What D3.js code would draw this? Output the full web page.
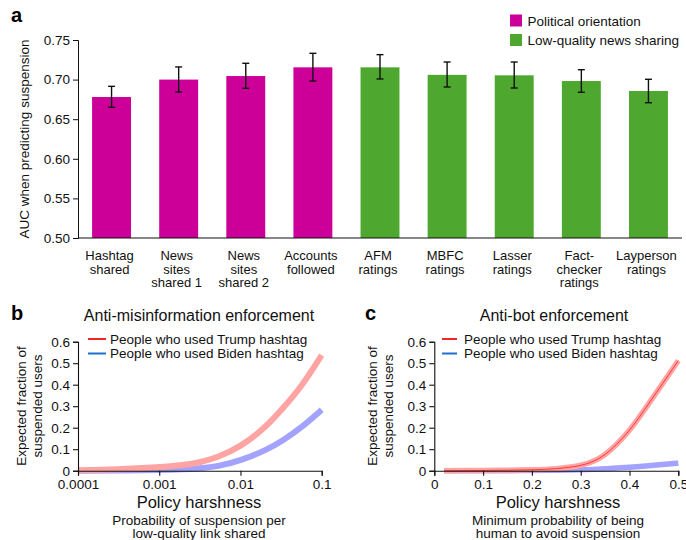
<!DOCTYPE html>
<html>
<head>
<meta charset="utf-8">
<script src="https://cdn.jsdelivr.net/npm/d3@7"></script>
<style>
  html, body { margin: 0; padding: 0; background: #fff; }
  svg { display: block; font-family: "Liberation Sans", Arial, Helvetica, sans-serif; }
</style>
</head>
<body>
<svg id="fig" width="686" height="540"></svg>
<script>
// ---- Panel a: AUC of suspension prediction per predictor ----
const categories = [
  ["Hashtag", "shared"], ["News", "sites", "shared 1"], ["News", "sites", "shared 2"],
  ["Accounts", "followed"], ["AFM", "ratings"], ["MBFC", "ratings"], ["Lasser", "ratings"],
  ["Fact-", "checker", "ratings"], ["Layperson", "ratings"]
];
const groups = ["pol", "pol", "pol", "pol", "lq", "lq", "lq", "lq", "lq"];
const auc   = [0.678, 0.700, 0.7045, 0.7155, 0.7155, 0.706, 0.7054, 0.6982, 0.6856];
const aucLo = [0.665, 0.6843, 0.689, 0.6982, 0.7008, 0.6907, 0.6894, 0.684, 0.6708];
const aucHi = [0.6915, 0.716, 0.7206, 0.7332, 0.7315, 0.7222, 0.7222, 0.7125, 0.7004];
const aucTicks = [0.50, 0.55, 0.60, 0.65, 0.70, 0.75];
const groupNames = { pol: "Political orientation", lq: "Low-quality news sharing" };

// ---- Panel b: anti-misinformation enforcement ----
const harshB = [0.0001, 0.0003, 0.001, 0.002, 0.0032, 0.0052, 0.01, 0.021, 0.034, 0.055, 0.1];
const trumpB = [0.002, 0.006, 0.016, 0.026, 0.039, 0.062, 0.11, 0.205, 0.295, 0.385, 0.538];
const bidenB = [0.0, 0.001, 0.003, 0.006, 0.011, 0.019, 0.047, 0.096, 0.143, 0.197, 0.283];
const ticksB = [0.0001, 0.001, 0.01, 0.1];

// ---- Panel c: anti-bot enforcement ----
const harshC = [0.02, 0.05, 0.1, 0.15, 0.2, 0.25, 0.3, 0.326, 0.35, 0.373, 0.4, 0.428, 0.456, 0.48, 0.5];
const trumpC = [0, 0.0005, 0.001, 0.002, 0.004, 0.008, 0.022, 0.042, 0.073, 0.12, 0.185, 0.274, 0.367, 0.445, 0.512];
const bidenC = [0, 0, 0, 0, 0.001, 0.002, 0.004, 0.006, 0.009, 0.012, 0.016, 0.021, 0.026, 0.031, 0.035];
const ticksC = [0, 0.1, 0.2, 0.3, 0.4, 0.5];
const fracTicks = [0, 0.1, 0.2, 0.3, 0.4, 0.5, 0.6];

const colors = { pol: "#cc0099", lq: "#4ea72e" };
const trumpBand = "#ffa3a3", trumpLine = "#ff1a1a", trumpKey = "#f0282a";
const bidenBand = "#a3a3ff", bidenKey = "#1f6fcf";

const svg = d3.select("#fig");
const FONT = 13.5;

function panelLetter(x, y, t) {
  svg.append("text").attr("x", x).attr("y", y).attr("font-size", 20).attr("font-weight", "bold").text(t);
}

// ================= Panel a =================
panelLetter(11, 22, "a");

const xa = d3.scaleBand().domain(d3.range(categories.length)).range([78, 682])
  .paddingInner(0.42).paddingOuter(0.21);
const ya = d3.scaleLinear().domain([0.5, 0.75]).range([238, 40]);

const ga = svg.append("g");
ga.selectAll("rect.bar").data(auc).join("rect")
  .attr("class", "bar")
  .attr("x", (d, i) => xa(i))
  .attr("width", xa.bandwidth())
  .attr("y", d => ya(d))
  .attr("height", d => ya(0.5) - ya(d))
  .attr("fill", (d, i) => colors[groups[i]]);

// error bars
const eb = ga.selectAll("g.err").data(auc).join("g").attr("class", "err")
  .attr("stroke", "#111").attr("stroke-width", 1.4);
eb.append("line")
  .attr("x1", (d, i) => xa(i) + xa.bandwidth() / 2).attr("x2", (d, i) => xa(i) + xa.bandwidth() / 2)
  .attr("y1", (d, i) => ya(aucLo[i])).attr("y2", (d, i) => ya(aucHi[i]));
eb.append("line")
  .attr("x1", (d, i) => xa(i) + xa.bandwidth() / 2 - 3.5).attr("x2", (d, i) => xa(i) + xa.bandwidth() / 2 + 3.5)
  .attr("y1", (d, i) => ya(aucLo[i])).attr("y2", (d, i) => ya(aucLo[i]));
eb.append("line")
  .attr("x1", (d, i) => xa(i) + xa.bandwidth() / 2 - 3.5).attr("x2", (d, i) => xa(i) + xa.bandwidth() / 2 + 3.5)
  .attr("y1", (d, i) => ya(aucHi[i])).attr("y2", (d, i) => ya(aucHi[i]));

// y axis
const yAxisA = ga.append("g").attr("transform", "translate(78,0)")
  .call(d3.axisLeft(ya).tickValues(aucTicks).tickFormat(d3.format(".2f")).tickSize(5).tickPadding(3));
yAxisA.selectAll("text").attr("font-size", FONT).attr("fill", "#111").attr("font-family", null);
yAxisA.selectAll("line,path").attr("stroke", "#111");

// baseline
ga.append("line").attr("x1", 78).attr("x2", 682).attr("y1", ya(0.5)).attr("y2", ya(0.5))
  .attr("stroke", "#111").attr("stroke-width", 1.2);

// category labels
const catLab = ga.selectAll("text.cat").data(categories).join("text")
  .attr("class", "cat")
  .attr("text-anchor", "middle")
  .attr("font-size", 13)
  .attr("fill", "#111")
  .attr("x", (d, i) => xa(i) + xa.bandwidth() / 2 - 2)
  .attr("y", 260);
catLab.selectAll("tspan").data(d => d).join("tspan")
  .attr("x", function () { return d3.select(this.parentNode).attr("x"); })
  .attr("dy", (d, j) => j === 0 ? 0 : 13.5)
  .text(d => d);

// y title
svg.append("text")
  .attr("transform", `translate(29,${(40 + 238) / 2}) rotate(-90)`)
  .attr("text-anchor", "middle").attr("font-size", FONT).attr("fill", "#111")
  .text("AUC when predicting suspension");

// legend
const legA = svg.append("g");
["pol", "lq"].forEach((k, i) => {
  legA.append("rect").attr("x", 510).attr("y", 14.5 + i * 19.5).attr("width", 12).attr("height", 12).attr("fill", colors[k]);
  legA.append("text").attr("x", 527.5).attr("y", 25.5 + i * 19.5).attr("font-size", FONT).attr("fill", "#111").text(groupNames[k]);
});

// ================= Panels b and c =================
function curvePanel(opt) {
  const g = svg.append("g");
  const x = opt.xScale;
  const y = d3.scaleLinear().domain([0, 0.6]).range([470.7, 341.7]);

  // title
  g.append("text").attr("x", opt.titleX).attr("y", 320.5).attr("text-anchor", "middle")
    .attr("font-size", 16).attr("fill", "#111").text(opt.title);

  // curves
  const line = (xs, ys) => d3.line().x((d, i) => x(xs[i])).y(d => y(d)).curve(d3.curveBasis)(ys);
  g.append("path").attr("d", line(opt.xs, opt.biden)).attr("fill", "none")
    .attr("stroke", bidenBand).attr("stroke-width", opt.band).attr("stroke-linecap", "butt");
  g.append("path").attr("d", line(opt.xs, opt.trump)).attr("fill", "none")
    .attr("stroke", trumpBand).attr("stroke-width", opt.band).attr("stroke-linecap", "butt");
  if (opt.centerLine) {
    g.append("path").attr("d", line(opt.xs, opt.trump)).attr("fill", "none")
      .attr("stroke", trumpLine).attr("stroke-width", 0.8);
  }

  // axes
  const ax = g.append("g").attr("transform", `translate(${opt.x0},0)`)
    .call(d3.axisLeft(y).tickValues(fracTicks).tickFormat(d => d === 0 ? "0" : d3.format(".1f")(d)).tickSize(5).tickPadding(3));
  const bx = g.append("g").attr("transform", "translate(0,470.7)")
    .call(d3.axisBottom(x).tickValues(opt.ticks).tickFormat(opt.tickFormat).tickSize(5).tickPadding(4));
  [ax, bx].forEach(a => {
    a.selectAll("text").attr("font-size", FONT).attr("fill", "#111").attr("font-family", null);
    a.selectAll("line,path").attr("stroke", "#111").attr("stroke-width", 1.1);
  });

  // y title (two lines)
  const yt = g.append("text")
    .attr("transform", `translate(${opt.yTitleX},406) rotate(-90)`)
    .attr("text-anchor", "middle").attr("font-size", FONT).attr("fill", "#111");
  yt.append("tspan").attr("x", 0).attr("dy", 0).text("Expected fraction of");
  yt.append("tspan").attr("x", 0).attr("dy", 16).text("suspended users");

  // x titles
  const cx = opt.xTitleX;
  g.append("text").attr("x", cx).attr("y", 507.5).attr("text-anchor", "middle")
    .attr("font-size", 16.5).attr("fill", "#111").text("Policy harshness");
  opt.sub.forEach((s, i) => {
    g.append("text").attr("x", cx).attr("y", 524.5 + i * 13.5).attr("text-anchor", "middle")
      .attr("font-size", FONT).attr("fill", "#111").text(s);
  });

  // legend
  [["People who used Trump hashtag", trumpKey], ["People who used Biden hashtag", bidenKey]].forEach((d, i) => {
    const yy = 339 + i * 14.5;
    g.append("line").attr("x1", opt.legX).attr("x2", opt.legX + opt.legLen).attr("y1", yy).attr("y2", yy)
      .attr("stroke", d[1]).attr("stroke-width", 2);
    g.append("text").attr("x", opt.legTextX).attr("y", yy + 4.7).attr("font-size", FONT).attr("fill", "#111").text(d[0]);
  });
}

panelLetter(11, 320, "b");
curvePanel({
  title: "Anti-misinformation enforcement", titleX: 199,
  xScale: d3.scaleLog().domain([0.0001, 0.1]).range([78, 321.7]),
  x0: 78, xs: harshB, trump: trumpB, biden: bidenB, band: 6, centerLine: false,
  ticks: ticksB, tickFormat: d => String(d),
  yTitleX: 26, xTitleX: 199,
  sub: ["Probability of suspension per", "low-quality link shared"],
  legX: 88, legLen: 18, legTextX: 110
});

panelLetter(365, 320, "c");
curvePanel({
  title: "Anti-bot enforcement", titleX: 554,
  xScale: d3.scaleLinear().domain([0, 0.5]).range([434.3, 678.3]),
  x0: 434.3, xs: harshC, trump: trumpC, biden: bidenC, band: 5.5, centerLine: true,
  ticks: ticksC, tickFormat: d => d === 0 ? "0" : d3.format(".1f")(d),
  yTitleX: 377, xTitleX: 558,
  sub: ["Minimum probability of being", "human to avoid suspension"],
  legX: 442, legLen: 15, legTextX: 464
});
</script>
</body>
</html>
